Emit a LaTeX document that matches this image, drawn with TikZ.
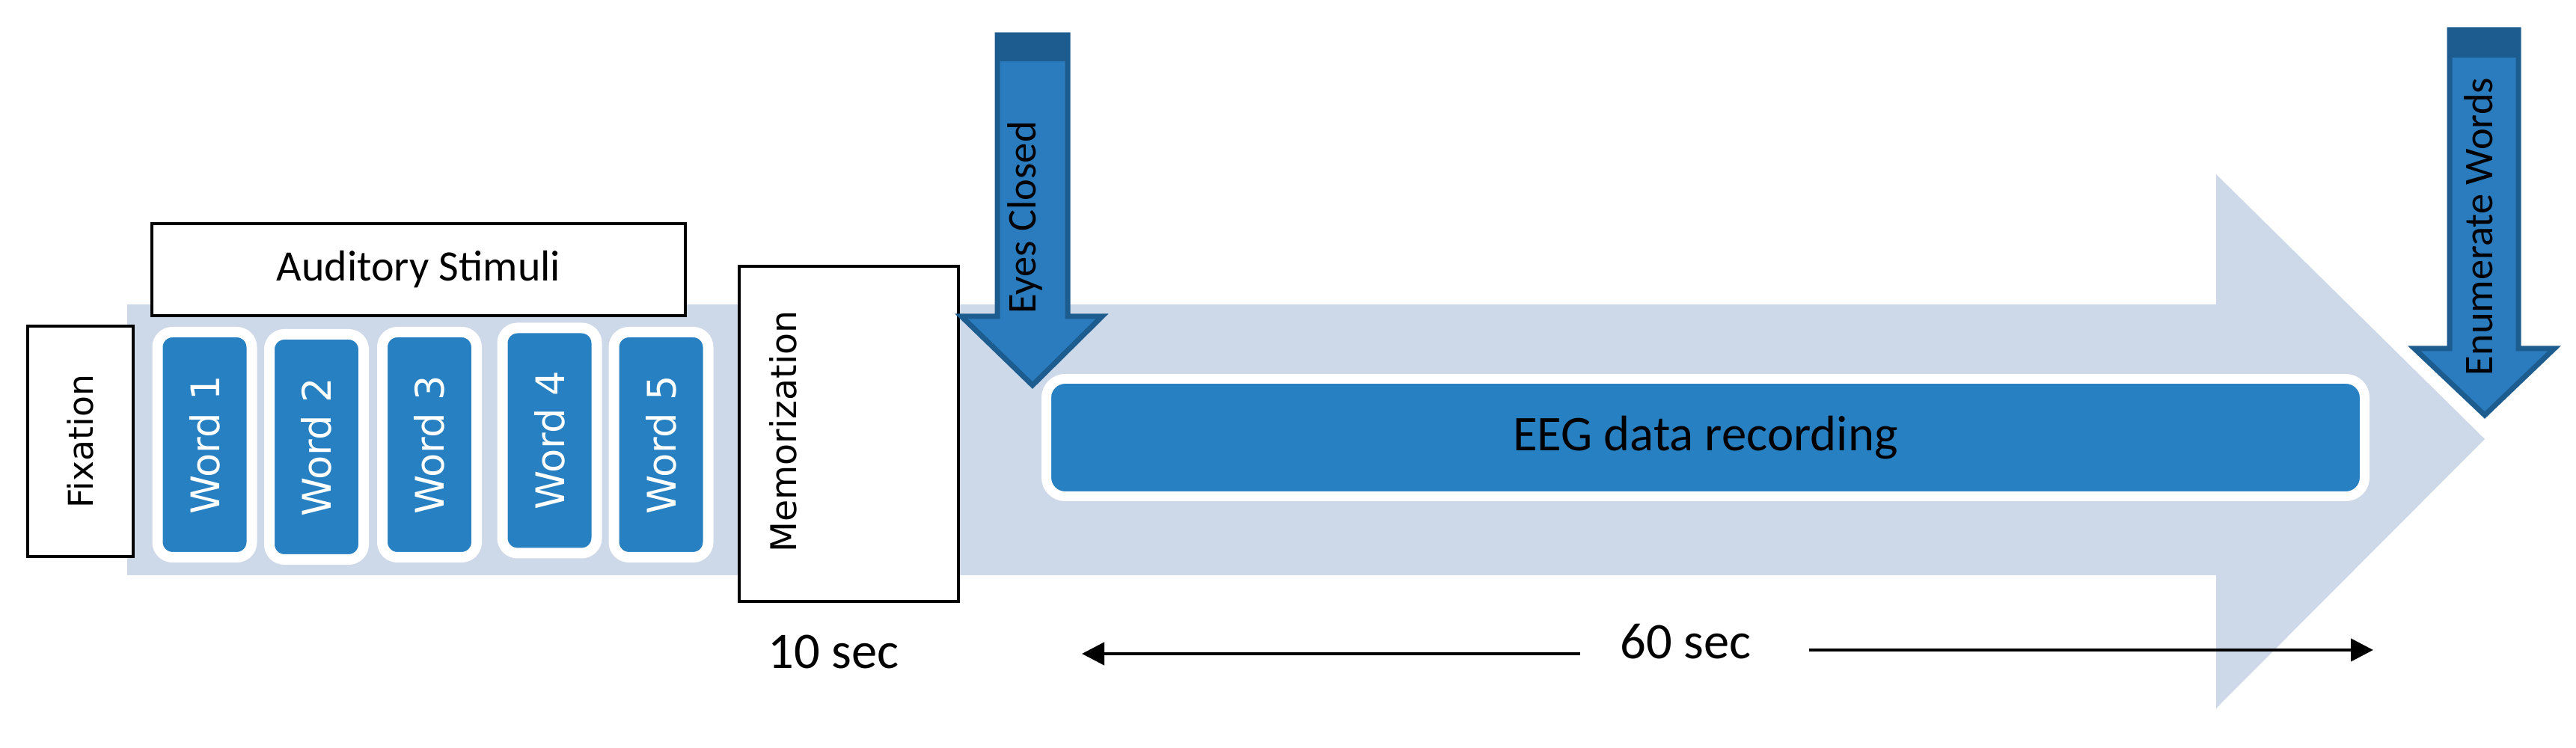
\documentclass[tikz,border=0pt]{standalone}
\usepackage{fontspec}
\setmainfont{Carlito}
\newfontfamily\wideface{DejaVu Sans}
\usepackage{tikz}
\usetikzlibrary{positioning, arrows.meta}
\definecolor{trackgray}{RGB}{205,216,232}
\definecolor{wordblue}{RGB}{38,128,193}
\definecolor{cueblue}{RGB}{42,124,190}
\definecolor{cuedark}{RGB}{29,92,143}
\tikzset{
    labelbox/.style={
        draw=black,
        fill=white,
        line width=0.9pt,
        inner sep=0pt
    },
    wordbox/.style={
        draw=white,
        fill=wordblue,
        line width=0.14cm,
        rounded corners=0.2cm,
        rotate=90,
        minimum width=3.01cm,
        minimum height=1.26cm,
        inner sep=0pt,
        text=white,
        font=\wideface\fontsize{15}{18}\selectfont
    },
    cuearrow/.style={
        fill=cueblue,
        draw=cuedark,
        line width=2pt
    },
    timeline/.style={
        -{Triangle[length=0.3cm, width=0.3cm]},
        line width=1.3pt
    }
}

\begin{document}
\begin{tikzpicture}
    \useasboundingbox (0,0) rectangle (34.43,10);

    % Background arrow
    \fill [trackgray] (1.70,5.93) -- (29.62,5.93) -- (29.62,7.67) -- (33.21,4.13)
        -- (29.62,0.53) -- (29.62,2.31) -- (1.70,2.31) -- cycle;

    % Phases
    \node (fixation) [
        labelbox,
        rotate=90,
        minimum width=3.08cm,
        minimum height=1.41cm,
        font=\wideface\fontsize{13}{16}\selectfont
    ] at (1.075,4.10) {Fixation};
    \node (stimuli) [
        labelbox,
        minimum width=7.13cm,
        minimum height=1.23cm,
        font=\fontsize{16.5}{20}\selectfont
    ] at (5.595,6.395) {Auditory Stimuli};
    \node (word1) [wordbox] at (2.735,4.055) {Word 1};
    \node (word2) [wordbox] at (4.23,4.025) {Word 2};
    \node (word3) [wordbox] at (5.74,4.055) {Word 3};
    \node (word4) [wordbox] at (7.345,4.11) {Word 4};
    \node (word5) [wordbox] at (8.835,4.055) {Word 5};
    \node (memo) [
        labelbox,
        minimum width=2.93cm,
        minimum height=4.48cm
    ] at (11.345,4.20) {};
    \node (memoText) [
        rotate=90,
        font=\wideface\fontsize{13.5}{16}\selectfont
    ] at (10.47,4.23) {Memorization};

    % Cues
    \filldraw [cuearrow] (13.33,9.53) -- (14.27,9.53) -- (14.27,5.77) -- (14.73,5.77)
        -- (13.80,4.85) -- (12.85,5.77) -- (13.33,5.77) -- cycle;
    \fill [cuedark] (13.33,9.53) rectangle (14.27,9.18);
    \node (eyes) [
        rotate=90,
        font=\fontsize{15.5}{19}\selectfont
    ] at (13.70,7.09) {Eyes Closed};
    \filldraw [cuearrow] (32.74,9.60) -- (33.66,9.60) -- (33.66,5.34) -- (34.14,5.34)
        -- (33.21,4.45) -- (32.27,5.34) -- (32.74,5.34) -- cycle;
    \fill [cuedark] (32.74,9.60) rectangle (33.66,9.23);
    \node (enumerate) [
        rotate=90,
        font=\fontsize{15.5}{19}\selectfont
    ] at (33.13,6.97) {Enumerate Words};

    % Recording
    \node (eeg) [
        draw=white,
        fill=wordblue,
        line width=0.13cm,
        rounded corners=0.25cm,
        minimum width=17.62cm,
        minimum height=1.57cm,
        font=\fontsize{19}{23}\selectfont
    ] at (22.795,4.15) {EEG data recording};

    % Durations
    \node (ten) [inner sep=0pt, font=\fontsize{19.5}{23}\selectfont] at (11.14,1.28) {10 sec};
    \node (sixty) [inner sep=0pt, font=\fontsize{19.5}{23}\selectfont] at (22.53,1.42) {60 sec};
    \coordinate (recStart) at (14.46,1.26);
    \coordinate (recEnd) at (31.72,1.31);
    \draw [timeline, shorten <=0.53cm] (sixty.west |- recStart) -- (recStart);
    \draw [timeline, shorten <=0.77cm] (sixty.east |- recEnd) -- (recEnd);
\end{tikzpicture}
\end{document}
